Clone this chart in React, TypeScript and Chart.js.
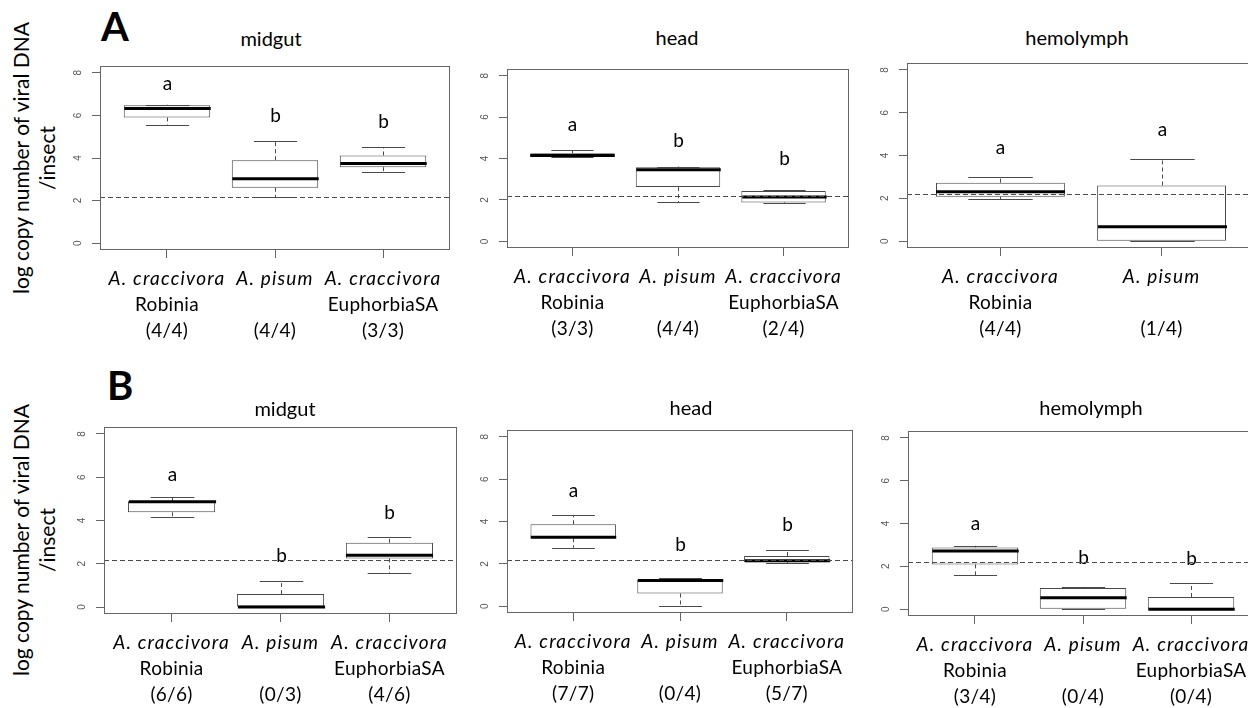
import React, { useEffect, useRef } from "react";
import { Chart, registerables } from "chart.js";

Chart.register(...registerables);

// ---------- shared axis data ----------
const Y_TICKS = [0, 2, 4, 6, 8];
const THRESHOLD = 2.18;
const SPECIES_3 = ["A. craccivora", "A. pisum", "A. craccivora"];
const HOSTS_3 = ["Robinia", "", "EuphorbiaSA"];
const SPECIES_2 = ["A. craccivora", "A. pisum"];
const HOSTS_2 = ["Robinia", ""];

// ---------- A – midgut ----------
const A_MIDGUT_MIN = [5.55, 2.15, 3.34];
const A_MIDGUT_Q1 = [5.9, 2.6, 3.57];
const A_MIDGUT_MED = [6.33, 3.03, 3.74];
const A_MIDGUT_Q3 = [6.48, 3.9, 4.12];
const A_MIDGUT_MAX = [6.5, 4.82, 4.5];
const A_MIDGUT_LETTERS = ["a", "b", "b"];
const A_MIDGUT_LETTER_Y = [7.47, 5.99, 5.68];
const A_MIDGUT_COUNTS = ["(4/4)", "(4/4)", "(3/3)"];

// ---------- A – head ----------
const A_HEAD_MIN = [4.08, 1.9, 1.85];
const A_HEAD_Q1 = [4.09, 2.62, 1.88];
const A_HEAD_MED = [4.15, 3.46, 2.14];
const A_HEAD_Q3 = [4.25, 3.58, 2.43];
const A_HEAD_MAX = [4.39, 3.61, 2.46];
const A_HEAD_LETTERS = ["a", "b", "b"];
const A_HEAD_LETTER_Y = [5.6, 4.84, 3.98];
const A_HEAD_COUNTS = ["(3/3)", "(4/4)", "(2/4)"];

// ---------- A – hemolymph ----------
const A_HEMO_MIN = [1.96, 0];
const A_HEMO_Q1 = [2.07, 0];
const A_HEMO_MED = [2.31, 0.67];
const A_HEMO_Q3 = [2.73, 2.6];
const A_HEMO_MAX = [2.99, 3.84];
const A_HEMO_LETTERS = ["a", "a"];
const A_HEMO_LETTER_Y = [4.34, 5.22];
const A_HEMO_COUNTS = ["(4/4)", "(1/4)"];

// ---------- B – midgut ----------
const B_MIDGUT_MIN = [4.18, 0, 1.56];
const B_MIDGUT_Q1 = [4.38, 0, 2.25];
const B_MIDGUT_MED = [4.87, 0, 2.4];
const B_MIDGUT_Q3 = [4.89, 0.6, 2.97];
const B_MIDGUT_MAX = [5.1, 1.19, 3.25];
const B_MIDGUT_LETTERS = ["a", "b", "b"];
const B_MIDGUT_LETTER_Y = [6.13, 2.36, 4.33];
const B_MIDGUT_COUNTS = ["(6/6)", "(0/3)", "(4/6)"];

// ---------- B – head ----------
const B_HEAD_MIN = [2.76, 0, 2.02];
const B_HEAD_Q1 = [3.21, 0.6, 2.08];
const B_HEAD_MED = [3.26, 1.21, 2.15];
const B_HEAD_Q3 = [3.87, 1.26, 2.37];
const B_HEAD_MAX = [4.3, 1.32, 2.64];
const B_HEAD_LETTERS = ["a", "b", "b"];
const B_HEAD_LETTER_Y = [5.46, 2.88, 3.83];
const B_HEAD_COUNTS = ["(7/7)", "(0/4)", "(5/7)"];

// ---------- B – hemolymph ----------
const B_HEMO_MIN = [1.58, 0, 0];
const B_HEMO_Q1 = [2.09, 0, 0];
const B_HEMO_MED = [2.71, 0.53, 0];
const B_HEMO_Q3 = [2.88, 0.99, 0.57];
const B_HEMO_MAX = [2.96, 1.04, 1.2];
const B_HEMO_LETTERS = ["a", "b", "b"];
const B_HEMO_LETTER_Y = [3.99, 2.4, 2.35];
const B_HEMO_COUNTS = ["(3/4)", "(0/4)", "(0/4)"];

const FONT = "Lato, 'Open Sans', sans-serif";
const LINE = "#4a4a4a";

type PanelCfg = {
  title: string;
  species: string[];
  hosts: string[];
  counts: string[];
  min: number[];
  q1: number[];
  med: number[];
  q3: number[];
  max: number[];
  letters: string[];
  letterY: number[];
  rect: [number, number, number, number]; // plot box L,T,R,B
  titleX: number;
  titleY: number;
};

const PANELS: PanelCfg[] = [
  { title: "midgut", species: SPECIES_3, hosts: HOSTS_3, counts: A_MIDGUT_COUNTS, min: A_MIDGUT_MIN, q1: A_MIDGUT_Q1, med: A_MIDGUT_MED, q3: A_MIDGUT_Q3, max: A_MIDGUT_MAX, letters: A_MIDGUT_LETTERS, letterY: A_MIDGUT_LETTER_Y, rect: [100, 66, 450, 250], titleX: 271, titleY: 38 },
  { title: "head", species: SPECIES_3, hosts: HOSTS_3, counts: A_HEAD_COUNTS, min: A_HEAD_MIN, q1: A_HEAD_Q1, med: A_HEAD_MED, q3: A_HEAD_Q3, max: A_HEAD_MAX, letters: A_HEAD_LETTERS, letterY: A_HEAD_LETTER_Y, rect: [507, 69, 849, 248], titleX: 677, titleY: 37 },
  { title: "hemolymph", species: SPECIES_2, hosts: HOSTS_2, counts: A_HEMO_COUNTS, min: A_HEMO_MIN, q1: A_HEMO_Q1, med: A_HEMO_MED, q3: A_HEMO_Q3, max: A_HEMO_MAX, letters: A_HEMO_LETTERS, letterY: A_HEMO_LETTER_Y, rect: [907, 63, 1255, 248], titleX: 1077, titleY: 37 },
  { title: "midgut", species: SPECIES_3, hosts: HOSTS_3, counts: B_MIDGUT_COUNTS, min: B_MIDGUT_MIN, q1: B_MIDGUT_Q1, med: B_MIDGUT_MED, q3: B_MIDGUT_Q3, max: B_MIDGUT_MAX, letters: B_MIDGUT_LETTERS, letterY: B_MIDGUT_LETTER_Y, rect: [104, 427, 457, 614], titleX: 285, titleY: 408 },
  { title: "head", species: SPECIES_3, hosts: HOSTS_3, counts: B_HEAD_COUNTS, min: B_HEAD_MIN, q1: B_HEAD_Q1, med: B_HEAD_MED, q3: B_HEAD_Q3, max: B_HEAD_MAX, letters: B_HEAD_LETTERS, letterY: B_HEAD_LETTER_Y, rect: [507, 430, 853, 613], titleX: 691, titleY: 407 },
  { title: "hemolymph", species: SPECIES_3, hosts: HOSTS_3, counts: B_HEMO_COUNTS, min: B_HEMO_MIN, q1: B_HEMO_Q1, med: B_HEMO_MED, q3: B_HEMO_Q3, max: B_HEMO_MAX, letters: B_HEMO_LETTERS, letterY: B_HEMO_LETTER_Y, rect: [908, 431, 1258, 616], titleX: 1091, titleY: 407 },
];

const PAD_L = 40;
const PAD_T = 10;
const PAD_R = 10;
const PAD_B = 100;

function Panel({ cfg }: { cfg: PanelCfg }) {
  const ref = useRef<HTMLCanvasElement>(null);
  const [L, T, R, B] = cfg.rect;
  const w = R - L + PAD_L + PAD_R;
  const h = B - T + PAD_T + PAD_B;

  useEffect(() => {
    const n = cfg.species.length;
    const positions = cfg.species.map((_, i) => i + 1);
    const xMin = 0.5 - 0.04 * n;
    const xMax = n + 0.5 + 0.04 * n;

    const boxPlugin = {
      id: "boxExtras",
      afterDatasetsDraw(chart: any) {
        const ctx = chart.ctx;
        const xs = chart.scales.x;
        const ys = chart.scales.y;
        const area = chart.chartArea;
        ctx.save();
        for (let i = 0; i < n; i++) {
          const cx = Math.round(xs.getPixelForValue(positions[i])) + 0.5;
          const half = (xs.getPixelForValue(positions[i] + 0.4) - xs.getPixelForValue(positions[i] - 0.4)) / 2;
          const cap = half / 2;
          const yMin = ys.getPixelForValue(cfg.min[i]);
          const yQ1 = ys.getPixelForValue(cfg.q1[i]);
          const yQ3 = ys.getPixelForValue(cfg.q3[i]);
          const yMax = ys.getPixelForValue(cfg.max[i]);
          const yMed = ys.getPixelForValue(cfg.med[i]);
          ctx.strokeStyle = LINE;
          ctx.lineWidth = 1;
          // whiskers (dashed)
          ctx.setLineDash([4, 3]);
          ctx.beginPath();
          ctx.moveTo(cx, yQ3);
          ctx.lineTo(cx, yMax);
          ctx.moveTo(cx, yQ1);
          ctx.lineTo(cx, yMin);
          ctx.stroke();
          // caps
          ctx.setLineDash([]);
          ctx.beginPath();
          ctx.moveTo(cx - cap, Math.round(yMax) + 0.5);
          ctx.lineTo(cx + cap, Math.round(yMax) + 0.5);
          ctx.moveTo(cx - cap, Math.round(yMin) + 0.5);
          ctx.lineTo(cx + cap, Math.round(yMin) + 0.5);
          ctx.stroke();
          // median
          ctx.strokeStyle = "#000";
          ctx.lineWidth = 3;
          ctx.beginPath();
          ctx.moveTo(cx - half, yMed);
          ctx.lineTo(cx + half, yMed);
          ctx.stroke();
          // significance letter
          ctx.fillStyle = "#000";
          ctx.font = `19px ${FONT}`;
          ctx.textAlign = "center";
          ctx.textBaseline = "middle";
          ctx.fillText(cfg.letters[i], cx, ys.getPixelForValue(cfg.letterY[i]));
        }
        // detection threshold
        const yt = Math.round(ys.getPixelForValue(THRESHOLD)) + 0.5;
        ctx.strokeStyle = LINE;
        ctx.lineWidth = 1;
        ctx.setLineDash([5, 3]);
        ctx.beginPath();
        ctx.moveTo(area.left, yt);
        ctx.lineTo(area.right, yt);
        ctx.stroke();
        ctx.setLineDash([]);
        ctx.restore();
      },
      afterDraw(chart: any) {
        const ctx = chart.ctx;
        const xs = chart.scales.x;
        const ys = chart.scales.y;
        const area = chart.chartArea;
        ctx.save();
        // frame
        ctx.strokeStyle = "#666";
        ctx.lineWidth = 1;
        ctx.strokeRect(area.left + 0.5, area.top + 0.5, area.right - area.left - 1, area.bottom - area.top - 1);
        // y tick labels (rotated as in R)
        ctx.fillStyle = "#555";
        ctx.font = `10px 'Liberation Sans', Arial, sans-serif`;
        ctx.textAlign = "center";
        ctx.textBaseline = "middle";
        for (const v of Y_TICKS) {
          const py = ys.getPixelForValue(v);
          ctx.save();
          ctx.translate(area.left - 22, py);
          ctx.rotate(-Math.PI / 2);
          ctx.fillText(String(v), 0, 0);
          ctx.restore();
        }
        // x labels
        ctx.fillStyle = "#000";
        for (let i = 0; i < n; i++) {
          const cx = xs.getPixelForValue(positions[i]);
          ctx.font = `italic 19px ${FONT}`;
          (ctx as any).letterSpacing = "1.2px";
          ctx.fillText(cfg.species[i], cx, area.bottom + 29);
          (ctx as any).letterSpacing = "0.3px";
          ctx.font = `19px ${FONT}`;
          if (cfg.hosts[i]) ctx.fillText(cfg.hosts[i], cx, area.bottom + 55);
          ctx.fillText(cfg.counts[i], cx, area.bottom + 81);
          (ctx as any).letterSpacing = "0px";
        }
        ctx.restore();
      },
    };

    const chart = new Chart(ref.current as HTMLCanvasElement, {
      type: "bar",
      data: {
        datasets: [
          {
            data: positions.map((p, i) => ({ x: p, y: [cfg.q1[i], cfg.q3[i]] })) as any,
            backgroundColor: "#ffffff",
            borderColor: LINE,
            borderWidth: 1,
            borderSkipped: false,
            categoryPercentage: 1,
            barPercentage: 0.8,
          },
        ],
      },
      options: {
        animation: false,
        responsive: false,
        events: [],
        layout: { padding: { left: 0, top: PAD_T, right: PAD_R, bottom: 0 } },
        plugins: { legend: { display: false }, tooltip: { enabled: false }, title: { display: false } },
        scales: {
          x: {
            type: "linear",
            offset: false,
            min: xMin,
            max: xMax,
            afterBuildTicks: (s: any) => {
              s.ticks = positions.map((v) => ({ value: v }));
            },
            afterFit: (s: any) => {
              s.height = PAD_B;
            },
            ticks: { display: false },
            grid: { offset: false, drawOnChartArea: false, drawTicks: true, tickLength: 8, color: "#666" },
            border: { display: false },
          },
          y: {
            type: "linear",
            min: -0.32,
            max: 8.32,
            afterBuildTicks: (s: any) => {
              s.ticks = Y_TICKS.map((v) => ({ value: v }));
            },
            afterFit: (s: any) => {
              s.width = PAD_L;
            },
            ticks: { display: false },
            grid: { drawOnChartArea: false, drawTicks: true, tickLength: 8, color: "#666" },
            border: { display: false },
          },
        },
      } as any,
      plugins: [boxPlugin],
    });
    return () => chart.destroy();
  }, [cfg]);

  return (
    <canvas
      ref={ref}
      width={w}
      height={h}
      style={{ position: "absolute", left: L - PAD_L, top: T - PAD_T, width: w, height: h }}
    />
  );
}

const textBase: React.CSSProperties = {
  position: "absolute",
  fontFamily: FONT,
  color: "#000",
  whiteSpace: "nowrap",
  lineHeight: 1,
};

function YTitle({ cy }: { cy: number }) {
  return (
    <div
      style={{
        ...textBase,
        left: 34,
        top: cy,
        fontSize: 21,
        lineHeight: "26px",
        textAlign: "center",
        transform: "translate(-50%, -50%) rotate(-90deg)",
      }}
    >
      log copy number of viral DNA
      <br />
      /insect
    </div>
  );
}

export default function App() {
  return (
    <div
      style={{
        position: "fixed",
        left: 0,
        top: 0,
        width: 1248,
        height: 708,
        overflow: "hidden",
        background: "#fff",
      }}
    >
      {PANELS.map((p, i) => (
        <Panel key={i} cfg={p} />
      ))}
      {PANELS.map((p, i) => (
        <div
          key={"t" + i}
          style={{ ...textBase, left: p.titleX, top: p.titleY, fontSize: 20, transform: "translate(-50%, -50%)" }}
        >
          {p.title}
        </div>
      ))}
      <div style={{ ...textBase, left: 101, top: 6, fontSize: 40, fontWeight: 700 }}>A</div>
      <div style={{ ...textBase, left: 107, top: 365, fontSize: 40, fontWeight: 700 }}>B</div>
      <YTitle cy={158} />
      <YTitle cy={540} />
    </div>
  );
}
